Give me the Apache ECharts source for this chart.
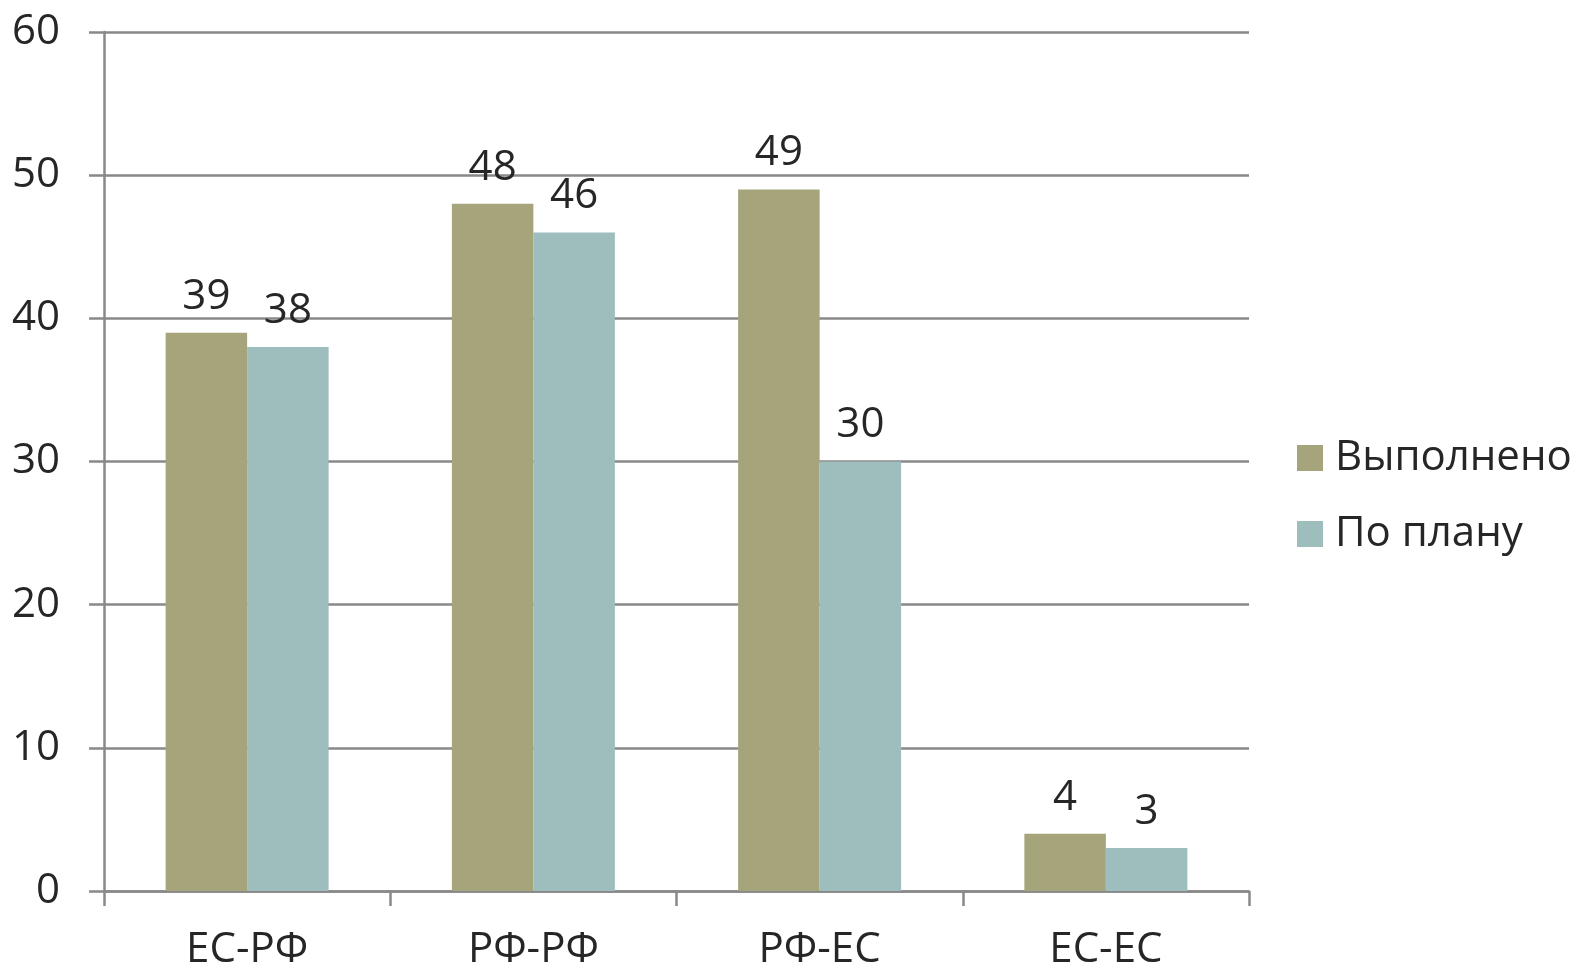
<!DOCTYPE html>
<html><head><meta charset="utf-8">
<script src="https://cdn.jsdelivr.net/npm/echarts@6/dist/echarts.min.js"></script>
<style>html,body{margin:0;padding:0;background:#fff}#c{width:1575px;height:972px}</style>
</head><body><div id="c"></div>
<script>
const categories = ['ЕС-РФ', 'РФ-РФ', 'РФ-ЕС', 'ЕС-ЕС'];
const done = [39, 48, 49, 4];
const planned = [38, 46, 30, 3];
const seriesNames = ['Выполнено', 'По плану'];

const font = '"Open Sans", sans-serif';
const txt = '#262626';
const axisGray = '#898989';
const chart = echarts.init(document.getElementById('c'));
const lbl = {show: true, position: 'top', distance: 15, fontFamily: font, fontSize: 42, color: txt};
chart.setOption({
  animation: false,
  grid: {left: 104, right: 326, top: 32, bottom: 81, containLabel: false, outerBoundsMode: 'none'},
  legend: {
    orient: 'vertical', left: 1292, top: 432, itemWidth: 26, itemHeight: 26, itemGap: 34,
    icon: 'rect',
    textStyle: {fontFamily: font, fontSize: 42, color: txt, padding: [0,0,0,7]},
    data: seriesNames
  },
  xAxis: {
    type: 'category', data: categories,
    axisLine: {lineStyle: {color: axisGray, width: 2.5}},
    axisTick: {show: true, length: 15, lineStyle: {color: axisGray, width: 2.5}},
    axisLabel: {fontFamily: font, fontSize: 42, color: txt, margin: 38}
  },
  yAxis: {
    type: 'value', min: 0, max: 60, interval: 10,
    axisLine: {show: true, lineStyle: {color: axisGray, width: 2.5}},
    axisTick: {show: true, length: 15, lineStyle: {color: axisGray, width: 2.5}},
    splitLine: {lineStyle: {color: axisGray, width: 2.5}},
    axisLabel: {fontFamily: font, fontSize: 42, color: txt, margin: 44}
  },
  series: [
    {name: seriesNames[0], type: 'bar', data: done, barWidth: 81.5, barGap: '0%',
     itemStyle: {color: '#A6A47B'}, label: lbl},
    {name: seriesNames[1], type: 'bar', data: planned, barWidth: 81.5,
     itemStyle: {color: '#9DBEBD'}, label: lbl}
  ]
});
</script></body></html>
